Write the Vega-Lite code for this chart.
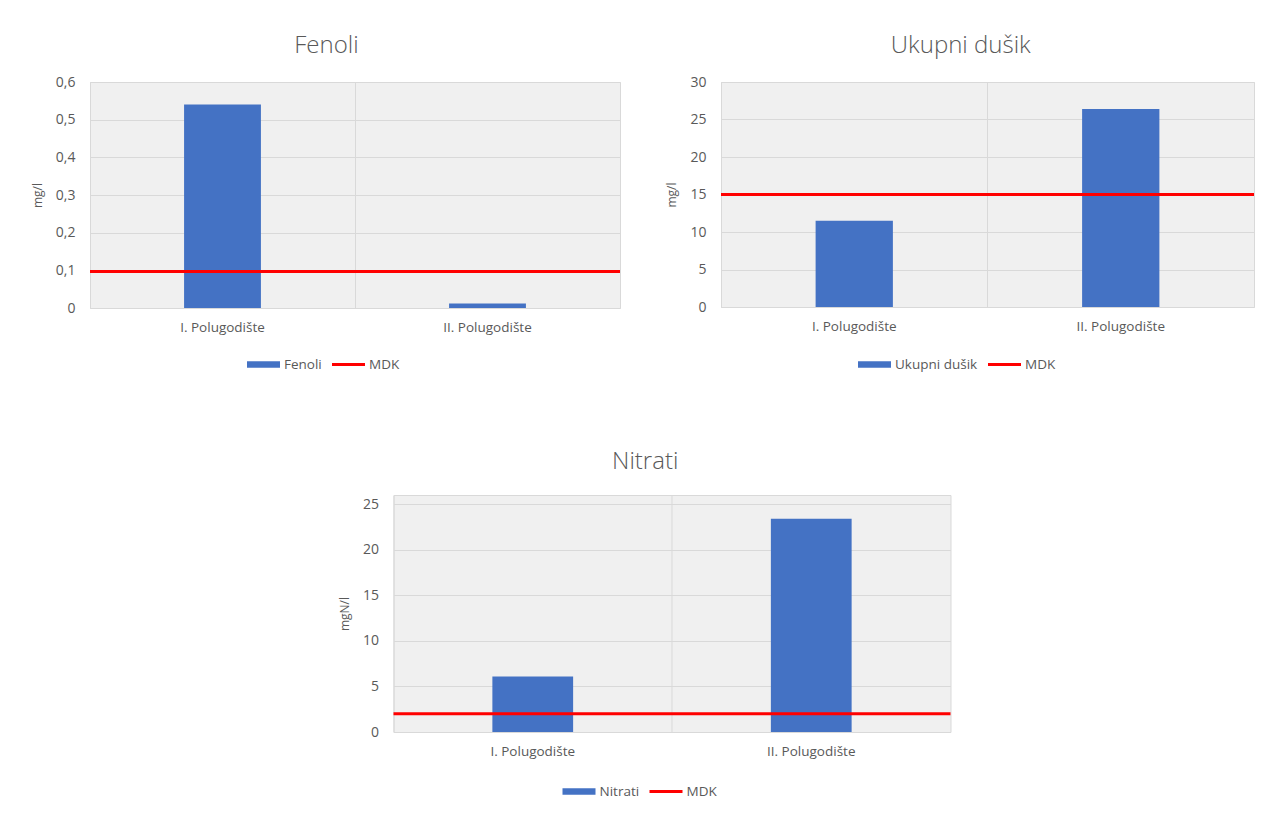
{
  "$schema": "https://vega.github.io/schema/vega-lite/v6.json",
  "background": "white",
  "padding": {"left": 30, "top": 33, "right": 10, "bottom": 5},
  "spacing": 77,
  "center": true,
  "resolve": {"scale": {"color": "independent", "y": "independent", "x": "independent"}, "legend": {"color": "independent"}, "axis": {"y": "independent", "x": "independent"}},
  "config": {
    "font": "Open Sans",
    "view": {"fill": "#f0f0f0", "stroke": "#d9d9d9", "strokeWidth": 1},
    "title": {"fontSize": 24, "fontWeight": 300, "color": "#595959", "offset": 17, "frame": "bounds", "anchor": "middle"},
    "axis": {"labelColor": "#595959", "titleColor": "#595959", "labelFontSize": 14, "titleFontSize": 12, "titleFontWeight": "normal", "gridColor": "#d9d9d9", "domain": false, "ticks": false},
    "axisX": {"labelFontSize": 13.5},
    "legend": {"labelColor": "#595959", "labelFontSize": 13.5, "orient": "none", "direction": "horizontal", "title": null, "symbolType": "M-1,-0.2H1V0.2H-1Z", "symbolSize": 1089, "symbolStrokeWidth": 0, "labelOffset": 4, "columnPadding": 10}
  },
  "vconcat": [
    {
      "spacing": 43,
      "resolve": {"scale": {"color": "independent", "y": "independent", "x": "independent"}, "legend": {"color": "independent"}, "axis": {"y": "independent", "x": "independent"}},
      "hconcat": [
        {
          "title": "Fenoli",
          "width": 530, "height": 226,
          "data": {"values": [
            {"period": "I. Polugodište", "value": 0.54, "series": "Fenoli"},
            {"period": "II. Polugodište", "value": 0.012, "series": "Fenoli"},
            {"series": "MDK", "value": 0.097}
          ]},
          "layer": [
            {
              "transform": [{"filter": "datum.series != 'MDK'"}],
              "mark": {"type": "bar", "width": {"band": 0.29}, "color": "#4472C4"},
              "encoding": {
                "x": {"field": "period", "type": "nominal", "title": null, "scale": {"paddingInner": 0, "paddingOuter": 0}, "axis": {"labelAngle": 0, "grid": true, "bandPosition": 0, "labelPadding": 12}},
                "y": {"field": "value", "type": "quantitative", "title": "mg/l", "scale": {"domain": [0, 0.6]}, "axis": {"values": [0, 0.1, 0.2, 0.3, 0.4, 0.5, 0.6], "tickCount": 7, "labelExpr": "datum.value == 0 ? '0' : replace(format(datum.value, '.1f'), '.', ',')", "labelPadding": 15, "titlePadding": 11}},
                "color": {"field": "series", "type": "nominal", "scale": {"domain": ["Fenoli", "MDK"], "range": ["#4472C4", "#FF0000"]}, "legend": {"legendX": 157, "legendY": 266, "encode": {"symbols": {"update": {"shape": {"signal": "datum.value == 'MDK' ? 'M-1,-0.09H1V0.09H-1Z' : 'M-1,-0.2H1V0.2H-1Z'"}, "fill": {"signal": "datum.value == 'MDK' ? '#FF0000' : '#4472C4'"}, "strokeWidth": {"value": 0}}}}}}
              }
            },
            {
              "transform": [{"filter": "datum.series == 'MDK'"}],
              "mark": {"type": "rule", "strokeWidth": 3},
              "encoding": {
                "y": {"field": "value", "type": "quantitative"},
                "color": {"field": "series", "type": "nominal"}
              }
            }
          ]
        },
        {
          "title": "Ukupni dušik",
          "width": 533, "height": 225,
          "data": {"values": [
            {"period": "I. Polugodište", "value": 11.5, "series": "Ukupni dušik"},
            {"period": "II. Polugodište", "value": 26.4, "series": "Ukupni dušik"},
            {"series": "MDK", "value": 15}
          ]},
          "layer": [
            {
              "transform": [{"filter": "datum.series != 'MDK'"}],
              "mark": {"type": "bar", "width": {"band": 0.29}, "color": "#4472C4"},
              "encoding": {
                "x": {"field": "period", "type": "nominal", "title": null, "scale": {"paddingInner": 0, "paddingOuter": 0}, "axis": {"labelAngle": 0, "grid": true, "bandPosition": 0, "labelPadding": 12}},
                "y": {"field": "value", "type": "quantitative", "title": "mg/l", "scale": {"domain": [0, 30]}, "axis": {"values": [0, 5, 10, 15, 20, 25, 30], "tickCount": 7, "labelPadding": 15, "titlePadding": 11}},
                "color": {"field": "series", "type": "nominal", "scale": {"domain": ["Ukupni dušik", "MDK"], "range": ["#4472C4", "#FF0000"]}, "legend": {"legendX": 137, "legendY": 266, "encode": {"symbols": {"update": {"shape": {"signal": "datum.value == 'MDK' ? 'M-1,-0.09H1V0.09H-1Z' : 'M-1,-0.2H1V0.2H-1Z'"}, "fill": {"signal": "datum.value == 'MDK' ? '#FF0000' : '#4472C4'"}, "strokeWidth": {"value": 0}}}}}}
              }
            },
            {
              "transform": [{"filter": "datum.series == 'MDK'"}],
              "mark": {"type": "rule", "strokeWidth": 3},
              "encoding": {
                "y": {"field": "value", "type": "quantitative"},
                "color": {"field": "series", "type": "nominal"}
              }
            }
          ]
        }
      ]
    },
    {
      "title": {"text": "Nitrati", "offset": 21},
      "width": 557, "height": 237,
      "data": {"values": [
        {"period": "I. Polugodište", "value": 6.1, "series": "Nitrati"},
        {"period": "II. Polugodište", "value": 23.4, "series": "Nitrati"},
        {"series": "MDK", "value": 2}
      ]},
      "layer": [
        {
          "transform": [{"filter": "datum.series != 'MDK'"}],
          "mark": {"type": "bar", "width": {"band": 0.29}, "color": "#4472C4"},
          "encoding": {
            "x": {"field": "period", "type": "nominal", "title": null, "scale": {"paddingInner": 0, "paddingOuter": 0}, "axis": {"labelAngle": 0, "grid": true, "bandPosition": 0, "labelPadding": 12}},
            "y": {"field": "value", "type": "quantitative", "title": "mgN/l", "scale": {"domain": [0, 25]}, "axis": {"values": [0, 5, 10, 15, 20, 25], "tickCount": 6, "labelPadding": 15, "titlePadding": 11}},
            "color": {"field": "series", "type": "nominal", "scale": {"domain": ["Nitrati", "MDK"], "range": ["#4472C4", "#FF0000"]}, "legend": {"legendX": 169, "legendY": 280, "encode": {"symbols": {"update": {"shape": {"signal": "datum.value == 'MDK' ? 'M-1,-0.09H1V0.09H-1Z' : 'M-1,-0.2H1V0.2H-1Z'"}, "fill": {"signal": "datum.value == 'MDK' ? '#FF0000' : '#4472C4'"}, "strokeWidth": {"value": 0}}}}}}
          }
        },
        {
          "transform": [{"filter": "datum.series == 'MDK'"}],
          "mark": {"type": "rule", "strokeWidth": 3},
          "encoding": {
            "y": {"field": "value", "type": "quantitative"},
            "color": {"field": "series", "type": "nominal"}
          }
        }
      ]
    }
  ]
}
